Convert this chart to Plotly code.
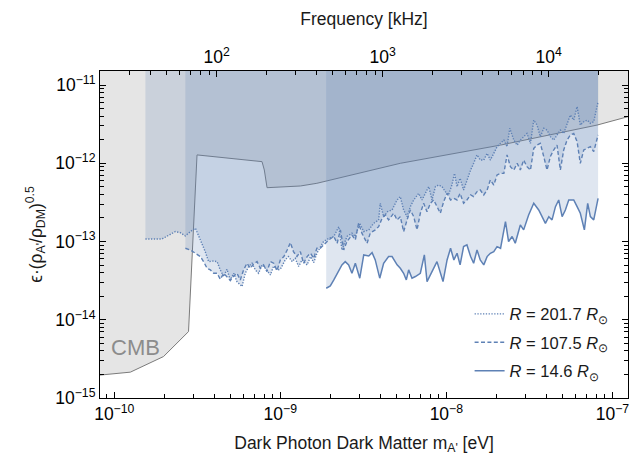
import math
import plotly.graph_objects as go

# ---------------- data ----------------
EV_PER_KHZ = 4.135667e-12  # photon energy (eV) of 1 kHz

# CMB bound (lower edge of grey excluded region)
cmb_mass = [7.0e-11, 1.25e-10, 1.98e-10, 2.80e-10, 3.15e-10, 7.76e-10, 8.01e-10,
            8.32e-10, 1.32e-9, 1.66e-9, 5.28e-9, 2.12e-8, 8.08e-8, 1.5e-7]
cmb_eps = [1.9e-15, 2.14e-15, 3.39e-15, 7.06e-15, 1.28e-12, 1.05e-12, 8.21e-13,
           4.88e-13, 5.13e-13, 5.55e-13, 1.0e-12, 1.71e-12, 3.08e-12, 4.4e-12]

# R = 201.7 R_sun (dotted)
mass_r201 = [
    1.54e-10, 1.94e-10, 2.33e-10, 2.50e-10, 2.68e-10, 2.87e-10, 3.08e-10, 3.30e-10, 3.53e-10, 3.70e-10,
    3.97e-10, 4.16e-10, 4.35e-10, 4.56e-10, 4.77e-10, 5.00e-10, 5.24e-10, 5.48e-10, 5.88e-10, 6.15e-10,
    6.45e-10, 6.75e-10, 7.07e-10, 7.40e-10, 7.75e-10, 8.12e-10, 8.71e-10, 9.12e-10, 9.55e-10, 1.00e-9,
    1.07e-9, 1.12e-9, 1.18e-9, 1.23e-9, 1.29e-9, 1.35e-9, 1.45e-9, 1.52e-9, 1.59e-9, 1.66e-9,
    1.74e-9, 1.82e-9, 1.96e-9, 2.10e-9, 2.25e-9, 2.35e-9, 2.52e-9, 2.70e-9, 2.83e-9, 3.01e-9,
    3.18e-9, 3.41e-9, 3.65e-9, 3.91e-9, 4.00e-9, 4.19e-9, 4.43e-9, 4.71e-9, 5.05e-9, 5.28e-9,
    5.53e-9, 5.80e-9, 6.07e-9, 6.36e-9, 6.81e-9, 7.14e-9, 7.47e-9, 7.83e-9, 8.20e-9, 8.59e-9,
    8.99e-9, 9.42e-9, 9.86e-9, 1.03e-8, 1.08e-8, 1.12e-8, 1.16e-8, 1.21e-8, 1.27e-8, 1.33e-8,
    1.40e-8, 1.46e-8, 1.53e-8, 1.60e-8, 1.68e-8, 1.76e-8, 1.84e-8, 1.93e-8, 2.02e-8, 2.12e-8,
    2.22e-8, 2.32e-8, 2.41e-8, 2.55e-8, 2.67e-8, 2.79e-8, 2.92e-8, 3.06e-8, 3.21e-8, 3.36e-8,
    3.52e-8, 3.68e-8, 3.86e-8, 4.04e-8, 4.23e-8, 4.43e-8, 4.64e-8, 4.86e-8, 5.09e-8, 5.33e-8,
    5.58e-8, 5.85e-8, 6.13e-8, 6.41e-8, 6.72e-8, 7.04e-8, 7.37e-8, 7.72e-8, 8.20e-8]
eps_r201 = [
    1.08e-13, 1.08e-13, 1.34e-13, 1.30e-13, 1.18e-13, 1.34e-13, 1.48e-13, 1.05e-13, 7.44e-14, 5.54e-14,
    5.65e-14, 5.54e-14, 4.34e-14, 3.57e-14, 4.42e-14, 3.23e-14, 3.93e-14, 3.08e-14, 2.66e-14, 3.93e-14,
    4.79e-14, 5.28e-14, 4.34e-14, 3.93e-14, 5.03e-14, 4.56e-14, 3.74e-14, 4.88e-14, 4.34e-14, 4.42e-14,
    5.82e-14, 6.42e-14, 5.54e-14, 6.11e-14, 4.79e-14, 5.82e-14, 5.03e-14, 6.42e-14, 5.38e-14, 7.08e-14,
    8.62e-14, 1.00e-13, 1.10e-13, 1.16e-13, 1.55e-13, 7.81e-14, 1.16e-13, 1.28e-13, 1.16e-13, 1.71e-13,
    1.34e-13, 1.41e-13, 1.71e-13, 1.89e-13, 3.08e-13, 2.08e-13, 2.41e-13, 2.53e-13, 3.40e-13, 3.75e-13,
    2.53e-13, 2.08e-13, 2.79e-13, 3.40e-13, 4.13e-13, 3.40e-13, 4.13e-13, 5.03e-13, 3.40e-13, 5.03e-13,
    5.28e-13, 5.03e-13, 4.34e-13, 3.94e-13, 5.28e-13, 7.44e-13, 5.03e-13, 6.43e-13, 4.56e-13, 6.12e-13,
    8.21e-13, 1.00e-12, 1.28e-12, 1.10e-12, 1.10e-12, 1.34e-12, 1.10e-12, 1.34e-12, 1.63e-12, 1.80e-12,
    1.98e-12, 1.63e-12, 2.80e-12, 1.98e-12, 1.71e-12, 1.98e-12, 2.19e-12, 2.41e-12, 1.80e-12, 3.57e-12,
    3.08e-12, 2.19e-12, 2.80e-12, 2.66e-12, 2.19e-12, 1.98e-12, 2.30e-12, 2.66e-12, 2.41e-12, 3.24e-12,
    4.14e-12, 3.57e-12, 5.29e-12, 3.08e-12, 3.40e-12, 3.57e-12, 3.24e-12, 3.40e-12, 6.13e-12]

# R = 107.5 R_sun (dashed)
mass_r107 = [
    2.68e-10, 2.87e-10, 3.08e-10, 3.30e-10, 3.45e-10, 3.62e-10, 3.79e-10, 3.97e-10, 4.16e-10, 4.35e-10,
    4.56e-10, 4.77e-10, 5.00e-10, 5.24e-10, 5.48e-10, 5.74e-10, 6.01e-10, 6.30e-10, 6.60e-10, 6.91e-10,
    7.24e-10, 7.58e-10, 7.93e-10, 8.31e-10, 8.71e-10, 9.12e-10, 9.55e-10, 1.00e-9, 1.05e-9, 1.10e-9,
    1.15e-9, 1.20e-9, 1.26e-9, 1.32e-9, 1.38e-9, 1.45e-9, 1.52e-9, 1.59e-9, 1.66e-9, 1.74e-9,
    1.82e-9, 1.96e-9, 2.10e-9, 2.20e-9, 2.30e-9, 2.41e-9, 2.52e-9, 2.70e-9, 2.83e-9, 2.96e-9,
    3.10e-9, 3.33e-9, 3.48e-9, 3.73e-9, 3.91e-9, 4.10e-9, 4.29e-9, 4.49e-9, 4.82e-9, 5.05e-9,
    5.28e-9, 5.53e-9, 5.80e-9, 6.07e-9, 6.36e-9, 6.66e-9, 6.97e-9, 7.30e-9, 7.65e-9, 8.01e-9,
    8.39e-9, 8.78e-9, 9.20e-9, 9.64e-9, 1.01e-8, 1.06e-8, 1.11e-8, 1.16e-8, 1.21e-8, 1.27e-8,
    1.33e-8, 1.40e-8, 1.46e-8, 1.53e-8, 1.60e-8, 1.68e-8, 1.76e-8, 1.84e-8, 1.93e-8, 2.02e-8,
    2.12e-8, 2.22e-8, 2.32e-8, 2.43e-8, 2.55e-8, 2.67e-8, 2.79e-8, 2.92e-8, 3.06e-8, 3.21e-8,
    3.36e-8, 3.52e-8, 3.68e-8, 3.86e-8, 4.04e-8, 4.23e-8, 4.43e-8, 4.64e-8, 4.86e-8, 5.09e-8,
    5.33e-8, 5.58e-8, 5.85e-8, 6.13e-8, 6.41e-8, 6.72e-8, 7.04e-8, 7.37e-8, 7.72e-8, 8.20e-8]
eps_r107 = [
    8.20e-14, 7.81e-14, 7.08e-14, 6.42e-14, 5.54e-14, 4.56e-14, 4.34e-14, 3.93e-14, 3.93e-14, 3.30e-14,
    3.93e-14, 3.57e-14, 3.17e-14, 3.64e-14, 3.93e-14, 3.23e-14, 4.34e-14, 5.28e-14, 4.56e-14, 5.18e-14,
    5.54e-14, 4.56e-14, 5.03e-14, 4.13e-14, 5.54e-14, 5.28e-14, 4.25e-14, 5.82e-14, 6.42e-14, 7.81e-14,
    9.69e-14, 7.44e-14, 6.42e-14, 7.44e-14, 5.28e-14, 6.42e-14, 7.08e-14, 6.11e-14, 8.20e-14, 8.20e-14,
    9.05e-14, 1.05e-13, 1.16e-13, 9.50e-14, 1.41e-13, 7.81e-14, 1.00e-13, 1.21e-13, 1.05e-13, 1.71e-13,
    1.28e-13, 9.50e-14, 1.28e-13, 1.41e-13, 1.55e-13, 1.98e-13, 2.19e-13, 1.89e-13, 2.30e-13, 1.89e-13,
    2.08e-13, 1.34e-13, 1.89e-13, 2.53e-13, 2.08e-13, 1.41e-13, 2.30e-13, 3.08e-13, 2.41e-13, 3.08e-13,
    3.40e-13, 2.79e-13, 2.30e-13, 3.24e-13, 4.13e-13, 3.40e-13, 3.57e-13, 3.40e-13, 4.13e-13, 3.08e-13,
    3.40e-13, 3.94e-13, 3.75e-13, 4.34e-13, 4.56e-13, 3.94e-13, 4.56e-13, 6.12e-13, 5.28e-13, 7.09e-13,
    7.44e-13, 7.44e-13, 1.28e-12, 9.06e-13, 8.21e-13, 1.00e-12, 8.21e-13, 1.10e-12, 9.06e-13, 8.21e-13,
    1.55e-12, 1.71e-12, 1.80e-12, 1.22e-12, 8.21e-13, 1.22e-12, 1.48e-12, 1.71e-12, 8.21e-13, 1.48e-12,
    1.98e-12, 2.30e-12, 2.41e-12, 1.89e-12, 1.00e-12, 1.48e-12, 1.55e-12, 1.63e-12, 1.41e-12, 2.30e-12]

# R = 14.6 R_sun (solid)
mass_r14 = [
    1.89e-9, 2.00e-9, 2.10e-9, 2.25e-9, 2.35e-9, 2.46e-9, 2.58e-9, 2.70e-9, 2.83e-9, 3.01e-9,
    3.18e-9, 3.41e-9, 3.57e-9, 3.73e-9, 3.97e-9, 4.19e-9, 4.49e-9, 4.71e-9, 5.05e-9, 5.28e-9,
    5.53e-9, 5.74e-9, 5.93e-9, 6.21e-9, 6.51e-9, 6.97e-9, 7.37e-9, 7.65e-9, 8.20e-9, 8.78e-9,
    9.55e-9, 1.01e-8, 1.06e-8, 1.11e-8, 1.16e-8, 1.21e-8, 1.27e-8, 1.33e-8, 1.40e-8, 1.46e-8,
    1.53e-8, 1.60e-8, 1.68e-8, 1.76e-8, 1.84e-8, 1.93e-8, 2.02e-8, 2.12e-8, 2.27e-8, 2.37e-8,
    2.49e-8, 2.60e-8, 2.79e-8, 2.92e-8, 3.13e-8, 3.36e-8, 3.60e-8, 3.77e-8, 3.95e-8, 4.14e-8,
    4.33e-8, 4.54e-8, 4.75e-8, 4.98e-8, 5.21e-8, 5.46e-8, 5.85e-8, 6.13e-8, 6.41e-8, 6.78e-8,
    7.10e-8, 7.37e-8, 7.72e-8, 8.20e-8]
eps_r14 = [
    2.53e-14, 2.71e-14, 3.23e-14, 4.34e-14, 5.03e-14, 5.54e-14, 5.03e-14, 3.93e-14, 5.28e-14, 3.40e-14,
    6.74e-14, 6.55e-14, 7.22e-14, 5.82e-14, 3.40e-14, 5.28e-14, 6.42e-14, 6.42e-14, 5.03e-14, 4.56e-14,
    3.93e-14, 3.23e-14, 4.34e-14, 3.40e-14, 3.57e-14, 3.93e-14, 6.74e-14, 3.08e-14, 4.13e-14, 5.54e-14,
    3.08e-14, 5.82e-14, 8.20e-14, 5.82e-14, 7.08e-14, 5.03e-14, 8.62e-14, 9.05e-14, 6.42e-14, 5.28e-14,
    7.81e-14, 5.82e-14, 5.03e-14, 6.42e-14, 7.08e-14, 7.44e-14, 8.62e-14, 8.20e-14, 1.80e-13, 1.00e-13,
    1.16e-13, 9.50e-14, 1.63e-13, 1.41e-13, 2.19e-13, 3.08e-13, 2.53e-13, 2.08e-13, 1.71e-13, 2.08e-13,
    1.89e-13, 2.79e-13, 3.40e-13, 2.08e-13, 2.53e-13, 3.40e-13, 3.40e-13, 2.79e-13, 2.30e-13, 1.41e-13,
    3.08e-13, 2.08e-13, 1.89e-13, 3.57e-13]

series_labels = ["<i>R</i> = 201.7 <i>R</i><sub>⊙</sub>",
                 "<i>R</i> = 107.5 <i>R</i><sub>⊙</sub>",
                 "<i>R</i> = 14.6 <i>R</i><sub>⊙</sub>"]
series_dash = ["1.3px,1.5px", "4px,2.4px", "solid"]
series_width = [1.4, 1.4, 1.5]

x_major_exp = [-10, -9, -8, -7]
y_major_exp = [-15, -14, -13, -12, -11]
f_major_exp = [2, 3, 4]

# ---------------- style ----------------
X_RANGE = [-10.086, -6.906]
Y_RANGE = [-15.0, -10.82]
X2_RANGE = [X_RANGE[0] - math.log10(EV_PER_KHZ), X_RANGE[1] - math.log10(EV_PER_KHZ)]
FILL_TOP = 10 ** (Y_RANGE[1] + 1.0)

BLUE = "#5E81B5"
BLUE_FILL = "rgba(94,129,181,0.20)"
GREY_FILL = "#e5e5e5"
GREY_LINE = "#7b7b7b"
FONT = "Liberation Sans, Arial, Helvetica, sans-serif"


def minor_vals(lo, hi):
    return [k * 10.0 ** e for e in range(lo, hi) for k in range(2, 10)]


def pow_label(e):
    s = str(e).replace("-", "\u2212")
    return f"10<sup>{s}</sup>"


fig = go.Figure()

# CMB excluded region (grey)
fig.add_trace(go.Scatter(
    x=cmb_mass + [cmb_mass[-1], cmb_mass[0]],
    y=cmb_eps + [FILL_TOP, FILL_TOP],
    mode="lines", fill="toself", fillcolor=GREY_FILL,
    line=dict(color=GREY_LINE, width=1),
    showlegend=False, hoverinfo="skip"))

series = [(mass_r201, eps_r201), (mass_r107, eps_r107), (mass_r14, eps_r14)]

# shaded excluded regions (curve up to the top)
for (m, e) in series:
    fig.add_trace(go.Scatter(
        x=m + [m[-1], m[0]],
        y=e + [FILL_TOP, FILL_TOP],
        mode="lines", fill="toself", fillcolor=BLUE_FILL,
        line=dict(width=0), showlegend=False, hoverinfo="skip"))

# limit curves
for i, ((m, e), lab, dsh, w) in enumerate(zip(series, series_labels, series_dash, series_width)):
    fig.add_trace(go.Scatter(
        x=m, y=e, mode="lines", name=lab, legendgroup=f"g{i}",
        line=dict(color=BLUE, width=w, dash=dsh),
        hoverinfo="skip"))

# invisible trace to carry the frequency axis
fig.add_trace(go.Scatter(
    x=[10 ** X2_RANGE[0], 10 ** X2_RANGE[1]], y=[1e-15, 1e-15], xaxis="x2",
    mode="markers", marker=dict(opacity=0), showlegend=False, hoverinfo="skip"))

tick_common = dict(
    type="log", ticks="inside", ticklen=6, tickwidth=1, tickcolor="black",
    showline=True, linecolor="black", linewidth=1, showgrid=False, zeroline=False,
    automargin=False,
    tickfont=dict(size=17.5, color="black", family=FONT),
)
minor_common = dict(tickmode="array", ticks="inside", ticklen=4, tickcolor="black",
                    tickwidth=1, showgrid=False)

# the page adds an 8 px body margin, so the figure is drawn 8 px smaller
fig.update_layout(
    width=636, height=452,
    margin=dict(l=92, r=16, t=63, b=62),
    paper_bgcolor="white", plot_bgcolor="white",
    font=dict(family=FONT, size=16, color="black"),
    xaxis=dict(
        **tick_common, range=X_RANGE, mirror=False,
        tickmode="array", tickvals=[10.0 ** e for e in x_major_exp],
        ticktext=[pow_label(e) for e in x_major_exp],
        minor=dict(**minor_common, tickvals=minor_vals(-11, -6)),
        title=dict(text="Dark Photon Dark Matter m<sub>A'</sub> [eV]",
                   font=dict(size=17.5, color="#1a1a1a"), standoff=13),
    ),
    xaxis2=dict(
        **tick_common, range=X2_RANGE, overlaying="x", side="top",
        tickmode="array", tickvals=[10.0 ** e for e in f_major_exp],
        ticktext=[pow_label(e) for e in f_major_exp],
        minor=dict(**minor_common, tickvals=minor_vals(1, 5)),
        title=dict(text="Frequency [kHz]", font=dict(size=17.5, color="#1a1a1a"), standoff=14),
    ),
    yaxis=dict(
        **tick_common, range=Y_RANGE, mirror="ticks",
        tickmode="array", tickvals=[10.0 ** e for e in y_major_exp],
        ticktext=[pow_label(e) for e in y_major_exp],
        minor=dict(**minor_common, tickvals=minor_vals(-16, -10)),
        title=dict(text="ϵ·(ρ<sub>A'</sub>/ρ<sub>DM</sub>)<sup>0.5</sup>",
                   font=dict(size=17.5, color="#1a1a1a"), standoff=8),
    ),
    legend=dict(x=0.70, y=0.31, xanchor="left", yanchor="top",
                bgcolor="rgba(0,0,0,0)", borderwidth=0, tracegroupgap=4,
                font=dict(size=16.5, family=FONT, color="#1a1a1a")),
    annotations=[dict(text="CMB", xref="paper", yref="paper", x=0.068, y=0.153,
                      xanchor="center", yanchor="middle",
                      showarrow=False, font=dict(size=22, color="#8c8c8c", family=FONT))],
)

fig.write_html("out.html")
